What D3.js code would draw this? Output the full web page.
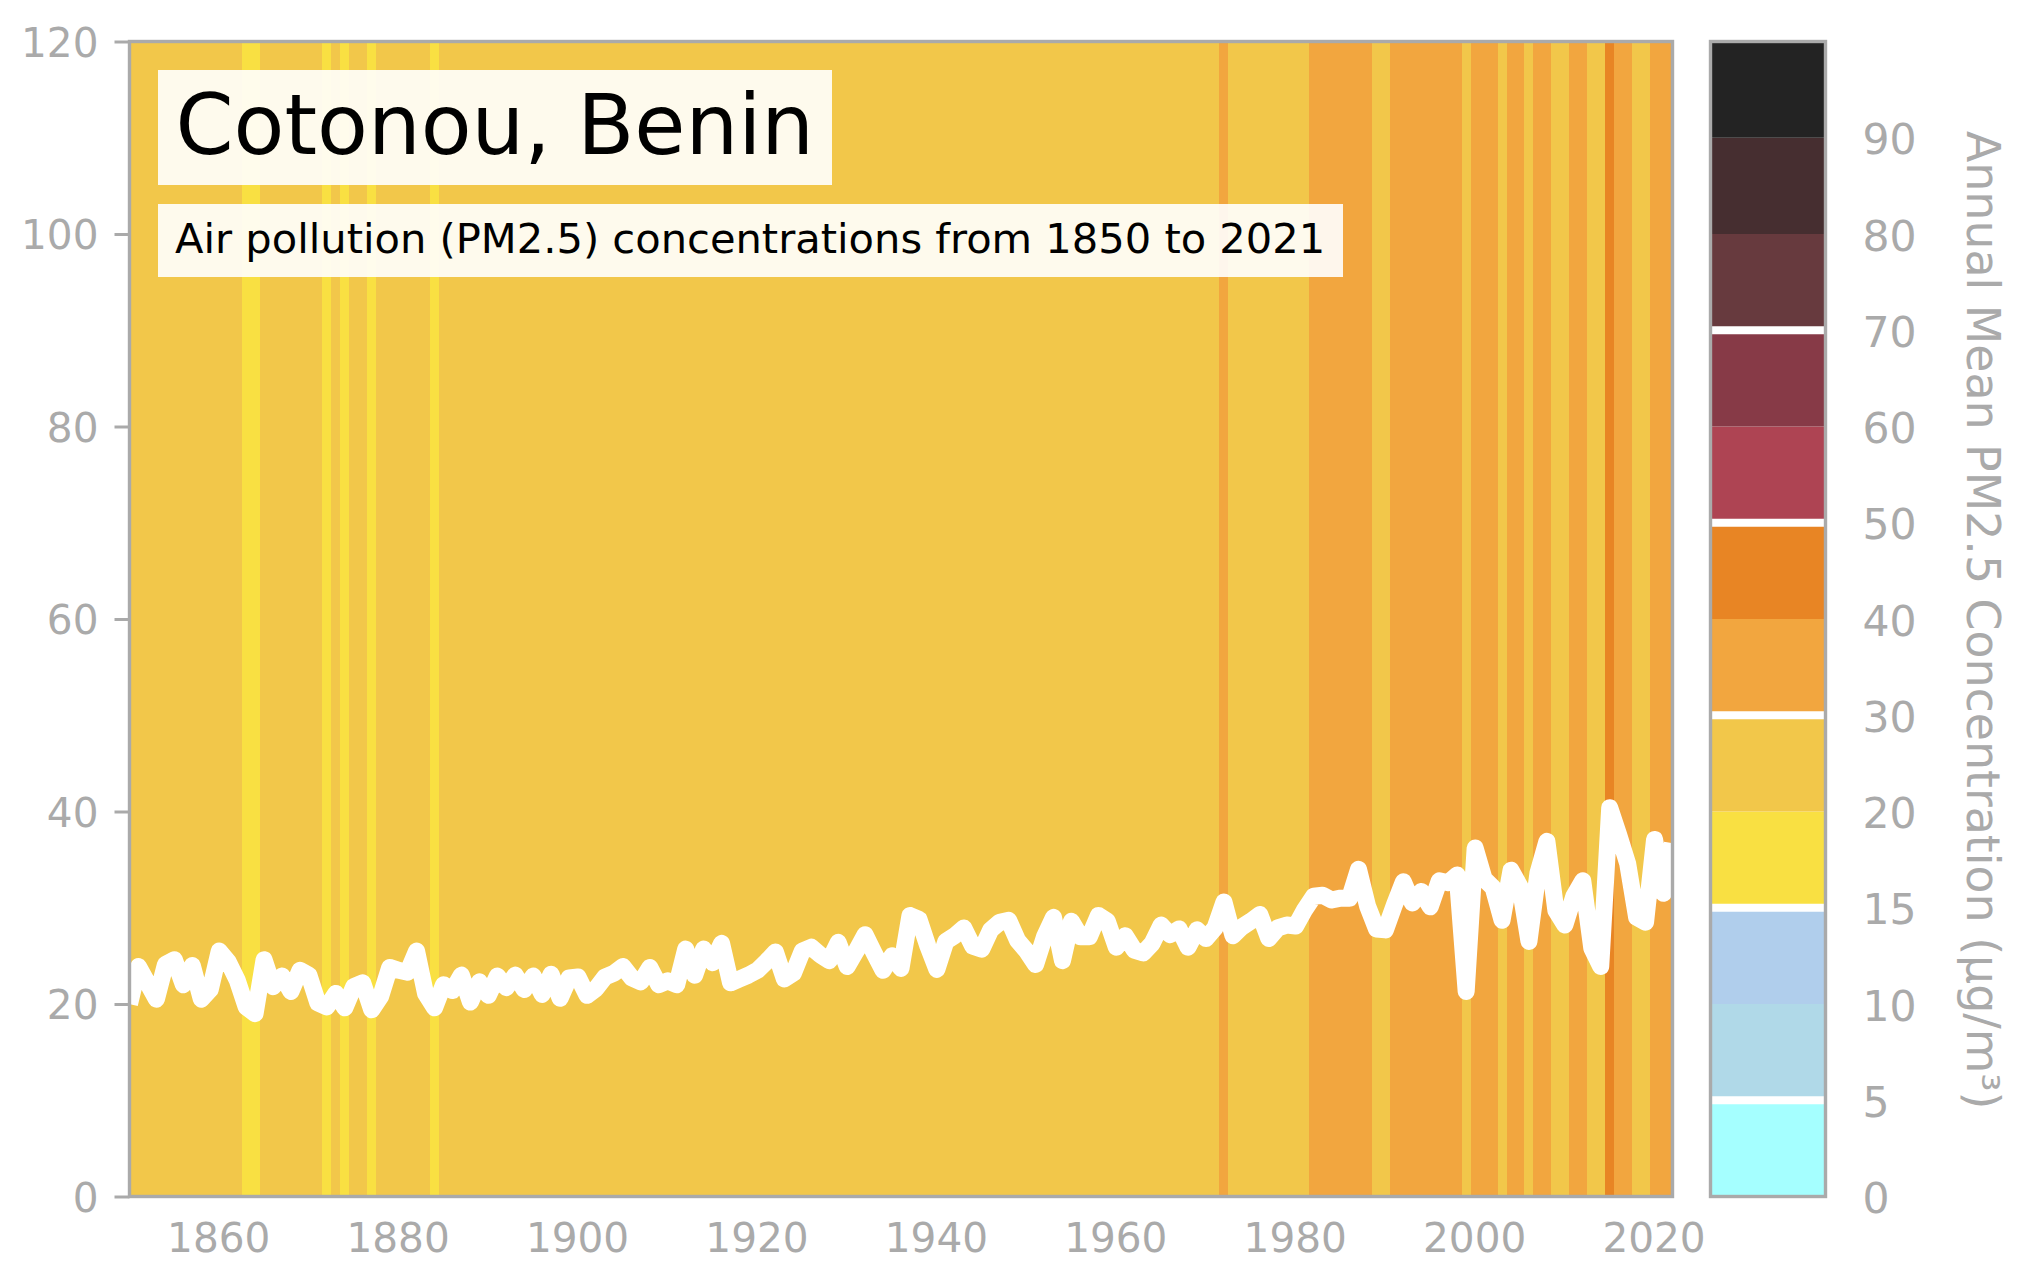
<!DOCTYPE html>
<html>
<head>
  <meta charset="utf-8">
  <style>
    html, body { margin: 0; padding: 0; background: #fff; }
    svg { display: block; }
    svg text { font-family: "DejaVu Sans", sans-serif; }
    .axis text { fill: #aaa; font-size: 40.6px; }
    .cb-axis text { fill: #aaa; font-size: 42.5px; }
    .axis .tick line { stroke: #aaa; stroke-width: 3px; }
    .axis .domain, .cb-axis .domain { display: none; }
    .spine { fill: none; stroke: #aaa; stroke-width: 3.4px; }
  </style>
</head>

<body>
  <div id="chart"></div>
  <script src="https://d3js.org/d3.v7.min.js"></script>
  <script>
    var title = "Cotonou, Benin";
    var subtitle = "Air pollution (PM2.5) concentrations from 1850 to 2021";
    var cbLabel = "Annual Mean PM2.5 Concentration (\u03bcg/m\u00b3)";

    var firstYear = 1850;
    // annual mean PM2.5, 1850 onward
    var pm25 = [
      20.0, 23.9, 22.2, 20.5, 24.1, 24.6, 22.0, 24.0, 20.5, 21.5,
      25.5, 24.4, 22.5, 19.7, 19.0, 24.6, 21.8, 22.9, 21.3, 23.5,
      23.0, 20.1, 19.7, 21.1, 19.6, 21.8, 22.2, 19.4, 20.8, 23.8,
      23.5, 23.3, 25.5, 21.1, 19.6, 22.0, 21.4, 23.0, 20.2, 22.3,
      20.9, 22.9, 21.7, 23.0, 21.5, 22.9, 21.0, 23.1, 20.6, 22.7,
      22.8, 20.9, 21.6, 22.8, 23.2, 23.9, 22.7, 22.3, 23.8, 22.0,
      22.4, 22.0, 25.7, 23.0, 25.7, 24.3, 26.3, 22.2, 22.6, 23.0,
      23.5, 24.4, 25.4, 22.6, 23.2, 25.5, 25.9, 25.1, 24.5, 26.4,
      23.9, 25.5, 27.2, 25.3, 23.5, 25.0, 23.7, 29.2, 28.8, 26.0,
      23.6, 26.5, 27.1, 27.9, 26.0, 25.7, 27.7, 28.5, 28.7, 26.6,
      25.5, 24.1, 27.0, 29.0, 24.5, 28.6, 27.0, 27.0, 29.2, 28.6,
      25.9, 27.1, 25.6, 25.3, 26.3, 28.2, 27.2, 27.8, 25.9, 27.7,
      26.8, 27.9, 30.6, 27.1, 28.0, 28.6, 29.3, 26.8, 27.9, 28.2,
      28.1, 29.8, 31.2, 31.3, 30.8, 31.0, 31.0, 34.0, 30.2, 27.8,
      27.7, 30.3, 32.7, 30.5, 31.7, 30.1, 32.8, 32.6, 33.4, 21.3,
      36.2, 33.0, 32.1, 28.7, 33.9, 32.2, 26.5, 33.6, 36.9, 29.7,
      28.2, 31.2, 32.8, 25.8, 23.9, 40.4, 37.6, 34.6, 29.0, 28.5,
      37.1, 31.5, 36.7
    ];
    var years = pm25.map(function (d, i) { return firstYear + i; });

    var xTicks = [1860, 1880, 1900, 1920, 1940, 1960, 1980, 2000, 2020];
    var yTicks = [0, 20, 40, 60, 80, 100, 120];

    // colour classes: lower edges of each class, and one colour per class
    var cbBreaks = [0, 5, 10, 15, 20, 30, 40, 50, 60, 70, 80, 90, 100];
    var cbColors = ["#a5ffff", "#b0d9e8", "#b0ceec", "#f9e042", "#f2c74a", "#f2a63f",
                    "#e88524", "#ae4453", "#873a47", "#673a3e", "#462e30", "#232323"];
    var cbSeparators = [5, 15, 30, 50, 70];
    var cbTicks = cbBreaks.slice(0, -1);

    var width = 2028,
        height = 1282,
        left = 129.5,
        right = 1672.5,
        top_ = 41.5,
        bottom = 1196.5,
        cbLeft = 1710.5,
        cbRight = 1825.5;

    var svg = d3.select("#chart").append("svg")
      .attr("width", width)
      .attr("height", height);

    // scales
    var xScale = d3.scaleLinear().domain([firstYear, firstYear + 172]).range([left, right]);
    var yScale = d3.scaleLinear().domain([0, 120]).range([bottom, top_]);
    var color = d3.scaleThreshold().domain(cbBreaks.slice(1, -1)).range(cbColors);
    // colourbar: every class gets the same height
    var cbScale = d3.scaleLinear()
      .domain(cbBreaks)
      .range(cbBreaks.map(function (d, i) {
        return bottom + (top_ - bottom) * i / (cbBreaks.length - 1);
      }));

    svg.append("clipPath").attr("id", "plot-clip")
      .append("rect")
        .attr("x", left).attr("y", top_)
        .attr("width", right - left).attr("height", bottom - top_);

    var plot = svg.append("g").attr("clip-path", "url(#plot-clip)");

    // one stripe per year, centred on the year
    plot.selectAll("rect.stripe")
      .data(years)
      .enter().append("rect")
        .classed("stripe", true)
        .attr("x", function (d) { return xScale(d - 0.5); })
        .attr("y", top_)
        .attr("width", function (d) { return xScale(d + 0.5) - xScale(d - 0.5); })
        .attr("height", bottom - top_)
        .attr("shape-rendering", "crispEdges")
        .attr("fill", function (d, i) { return color(pm25[i]); });

    var line = d3.line()
      .x(function (d, i) { return xScale(years[i]); })
      .y(function (d) { return yScale(d); });

    plot.append("path")
      .attr("d", line(pm25))
      .attr("fill", "none")
      .attr("stroke", "#fff")
      .attr("stroke-width", 17)
      .attr("stroke-linejoin", "round");

    // title boxes
    var boxes = [
      { text: title, x: 158, y: 70, w: 674, h: 115, size: 83.2, tx: 175.5, ty: 154 },
      { text: subtitle, x: 158, y: 204, w: 1185, h: 73, size: 41.6, tx: 175, ty: 253 }
    ];
    boxes.forEach(function (b) {
      svg.append("rect")
        .attr("x", b.x).attr("y", b.y)
        .attr("width", b.w).attr("height", b.h)
        .attr("fill", "#fff").attr("fill-opacity", 0.9);
      svg.append("text")
        .attr("x", b.tx).attr("y", b.ty)
        .style("font-size", b.size + "px")
        .style("fill", "#000")
        .text(b.text);
    });

    // axes
    var yAxisG = svg.append("g")
      .classed("axis", true)
      .attr("transform", "translate(" + left + ",0)")
      .call(d3.axisLeft(yScale).tickValues(yTicks).tickSize(15).tickPadding(16));
    yAxisG.selectAll("text").attr("dy", "0.36em");

    var xAxisG = svg.append("g")
      .classed("axis", true)
      .attr("transform", "translate(0," + bottom + ")")
      .call(d3.axisBottom(xScale).tickValues(xTicks).tickSize(0).tickPadding(27)
        .tickFormat(d3.format("d")));
    xAxisG.selectAll("text").attr("x", -1);

    svg.append("rect")
      .classed("spine", true)
      .attr("x", left).attr("y", top_)
      .attr("width", right - left).attr("height", bottom - top_);

    // colourbar
    var cb = svg.append("g");
    cb.selectAll("rect.cb")
      .data(cbColors)
      .enter().append("rect")
        .classed("cb", true)
        .attr("x", cbLeft)
        .attr("width", cbRight - cbLeft)
        .attr("y", function (d, i) { return cbScale(cbBreaks[i + 1]); })
        .attr("height", function (d, i) { return cbScale(cbBreaks[i]) - cbScale(cbBreaks[i + 1]); })
        .attr("fill", function (d) { return d; });

    cb.selectAll("line.sep")
      .data(cbSeparators)
      .enter().append("line")
        .classed("sep", true)
        .attr("x1", cbLeft).attr("x2", cbRight)
        .attr("y1", function (d) { return cbScale(d); })
        .attr("y2", function (d) { return cbScale(d); })
        .attr("stroke", "#fff")
        .attr("stroke-width", 8);

    cb.append("rect")
      .classed("spine", true)
      .attr("x", cbLeft).attr("y", top_)
      .attr("width", cbRight - cbLeft).attr("height", bottom - top_);

    var cbAxisG = svg.append("g")
      .classed("cb-axis", true)
      .attr("transform", "translate(" + cbRight + ",0)")
      .call(d3.axisRight(cbScale).tickValues(cbTicks).tickSize(0).tickPadding(37));
    cbAxisG.selectAll("text").attr("dy", "0.38em");

    svg.append("text")
      .attr("transform", "translate(1967,131) rotate(90)")
      .style("font-size", "45.8px")
      .style("fill", "#aaa")
      .text(cbLabel);
  </script>
</body>
</html>
